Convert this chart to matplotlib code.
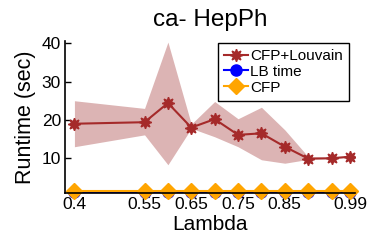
import matplotlib as mpl
mpl.use('Agg')
import matplotlib.pyplot as plt

plt.rcParams['font.family'] = ['Liberation Sans', 'DejaVu Sans']

lam = [0.4, 0.55, 0.6, 0.65, 0.7, 0.75, 0.8, 0.85, 0.9, 0.95, 0.99]
cfp_louvain = [19.0, 19.4, 24.4, 18.0, 20.2, 16.1, 16.5, 13.0, 9.9, 10.0, 10.4]
upper = [25.0, 23.0, 40.3, 18.9, 24.8, 20.3, 23.3, 17.4, 10.4, 10.1, 10.5]
lower = [13.0, 16.1, 8.3, 17.8, 15.6, 13.0, 9.6, 8.7, 9.7, 9.9, 10.3]
lb_time = [1.3] * len(lam)
cfp = [1.5] * len(lam)

xticks = [0.4, 0.55, 0.65, 0.75, 0.85, 0.99]
xticklabels = ['0.4', '0.55', '0.65', '0.75', '0.85', '0.99']
yticks = [10, 20, 30, 40]

fig = plt.figure(figsize=(3.74, 2.49), dpi=100)
ax = fig.add_axes([0.174, 0.226, 0.775, 0.608])

ax.fill_between(lam, lower, upper, color='#dcb4b4', linewidth=0)
ax.plot(lam, cfp_louvain, color='#a52a2a', linewidth=1.5,
        marker=(8, 1, 0), markersize=9, label='CFP+Louvain')
ax.plot(lam, lb_time, color='blue', linewidth=1.5, marker='o',
        markersize=8, label='LB time', clip_on=False)
ax.plot(lam, cfp, color='orange', linewidth=1.5, marker='D',
        markersize=8, label='CFP', clip_on=False)

ax.set_xlim(0.38, 1.0)
ax.set_ylim(1.0, 40.5)
ax.set_xticks(xticks)
ax.set_xticklabels(xticklabels)
ax.set_yticks(yticks)
ax.tick_params(labelsize=12.5, direction='in', length=4, width=1, pad=3)
ax.spines['top'].set_visible(False)
ax.spines['right'].set_visible(False)
for s in ['left', 'bottom']:
    ax.spines[s].set_linewidth(1.2)

ax.set_xlabel('Lambda', fontsize=15, labelpad=2)
ax.set_ylabel('Runtime (sec)', fontsize=15.5, labelpad=4)
ax.set_title('ca- HepPh', fontsize=17.5, pad=11)

leg = ax.legend(loc='upper right', bbox_to_anchor=(0.979, 0.99),
                borderaxespad=0, fontsize=11, fancybox=False,
                framealpha=1, edgecolor='black', labelspacing=0.12,
                handlelength=1.6, handletextpad=0.1, borderpad=0.4)
leg.get_frame().set_linewidth(1.0)

fig.savefig('out.png', dpi=100)
